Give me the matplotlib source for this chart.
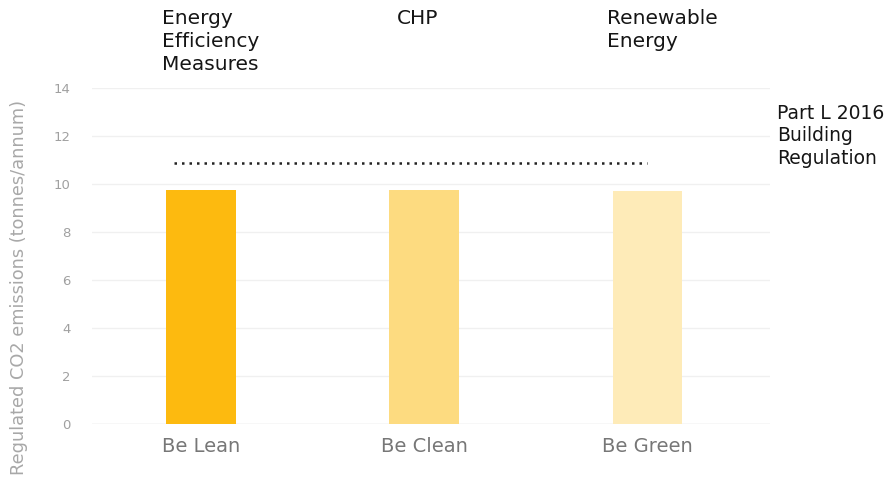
import matplotlib
matplotlib.use("Agg")
import matplotlib.pyplot as plt

plt.rcParams['font.family'] = ['DejaVu Sans']

categories = ["Be Lean", "Be Clean", "Be Green"]
values = [9.75, 9.75, 9.7]
colors = ["#FDBA0F", "#FDDB80", "#FEEBB8"]
headers = ["Energy\nEfficiency\nMeasures", "CHP", "Renewable\nEnergy"]
regulation_value = 10.9
regulation_label = "Part L 2016\nBuilding\nRegulation"
yticks = [0, 2, 4, 6, 8, 10, 12, 14]

fig = plt.figure(figsize=(8.9, 4.82), dpi=100)
ax = fig.add_axes([0.103, 0.12, 0.762, 0.697])

x = list(range(len(categories)))
ax.bar(x, values, width=0.31, color=colors, zorder=2)
ax.plot([-0.12, 2.0], [regulation_value, regulation_value], linestyle=(0, (1, 2)),
        color="#222222", linewidth=1.8, zorder=3)

ax.set_xlim(-0.49, 2.55)
ax.set_ylim(0, 14)
ax.set_yticks(yticks)
ax.set_yticklabels([str(t) for t in yticks], fontsize=9.5, color="#a0a0a0")
ax.set_xticks(x)
ax.set_xticklabels(categories, fontsize=14, color="#777777")
ax.tick_params(axis='both', length=0)
ax.tick_params(axis='y', pad=15)
ax.tick_params(axis='x', pad=9)
ax.grid(axis='y', color="#f0f0f0", linewidth=1, zorder=0)
ax.set_axisbelow(True)
for s in ax.spines.values():
    s.set_visible(False)
ax.axhline(0, color="#e6e6e6", linewidth=1, zorder=1)

fig.text(19 / 890, 1 - 287 / 482, "Regulated CO2 emissions (tonnes/annum)", rotation=90,
         fontsize=12.8, color="#a8a8a8", ha="center", va="center")

header_x = [162, 397, 607]
for hx, h in zip(header_x, headers):
    fig.text(hx / 890, 1 - 9 / 482, h, fontsize=14.5, color="#151515", va="top", ha="left",
             linespacing=1.27)
fig.text(777 / 890, 1 - 104 / 482, regulation_label, fontsize=13.5, color="#151515", va="top",
         ha="left", linespacing=1.22)

fig.savefig("out.png", dpi=100)
